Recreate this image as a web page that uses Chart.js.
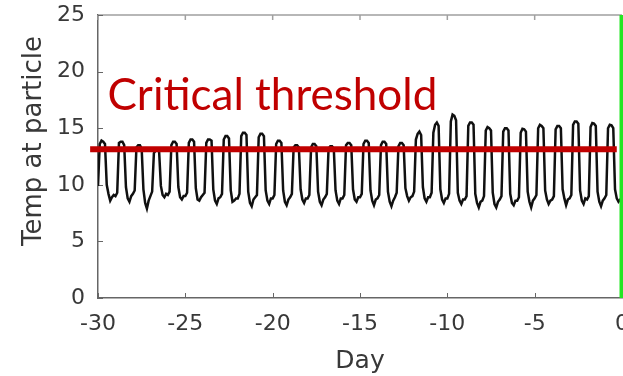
<!DOCTYPE html>
<html>
<head>
<meta charset="utf-8">
<script src="https://cdn.jsdelivr.net/npm/chart.js@4.4.1/dist/chart.umd.min.js"></script>
<style>
  html, body { margin: 0; padding: 0; background: #ffffff; overflow: hidden; }
  #wrap { width: 623px; height: 376px; position: relative; }
</style>
</head>
<body>
<div id="wrap"><canvas id="c"></canvas></div>
<script>
// ---- data ----
const startDay = -30;
const samplesPerDay = 10;            // one reading every 0.1 day
// temperature at particle, one row per day (10 readings each)
const tempByDay = [
  [9.9, 13.6, 13.9, 13.8, 13.6, 10.0, 9.2, 8.6, 8.9, 9.1],
  [9.0, 9.3, 13.7, 13.8, 13.8, 13.5, 9.8, 8.8, 8.5, 9.0],
  [9.2, 9.5, 13.3, 13.5, 13.5, 13.2, 9.6, 8.4, 7.9, 8.6],
  [9.0, 9.4, 12.8, 13.0, 13.1, 12.9, 9.9, 9.1, 8.9, 9.2],
  [9.1, 9.4, 13.5, 13.8, 13.8, 13.6, 9.8, 8.9, 8.7, 9.0],
  [9.0, 9.3, 13.7, 14.0, 14.0, 13.8, 9.7, 8.7, 8.6, 8.9],
  [9.1, 9.3, 13.7, 14.0, 14.0, 13.9, 9.6, 8.6, 8.3, 8.8],
  [8.9, 9.2, 14.0, 14.3, 14.3, 14.1, 9.5, 8.5, 8.6, 8.8],
  [8.8, 9.2, 14.3, 14.6, 14.6, 14.4, 9.4, 8.4, 8.1, 8.7],
  [8.9, 9.1, 14.2, 14.5, 14.5, 14.3, 9.5, 8.6, 8.3, 8.8],
  [8.8, 9.1, 13.6, 13.9, 13.9, 13.7, 9.5, 8.5, 8.2, 8.7],
  [8.9, 9.2, 13.3, 13.5, 13.5, 13.3, 9.6, 8.7, 8.4, 8.8],
  [8.8, 9.1, 13.3, 13.6, 13.6, 13.4, 9.4, 8.5, 8.2, 8.7],
  [8.9, 9.2, 13.2, 13.4, 13.4, 13.2, 9.5, 8.6, 8.3, 8.8],
  [8.8, 9.1, 13.5, 13.7, 13.7, 13.5, 9.6, 8.7, 8.5, 8.9],
  [8.9, 9.2, 13.6, 13.9, 13.9, 13.7, 9.5, 8.6, 8.2, 8.7],
  [8.8, 9.1, 13.5, 13.8, 13.8, 13.6, 9.4, 8.5, 8.1, 8.6],
  [8.9, 9.3, 13.4, 13.7, 13.7, 13.5, 9.7, 9.0, 8.6, 8.9],
  [9.0, 9.4, 14.0, 14.5, 14.7, 14.4, 9.8, 8.8, 8.5, 8.9],
  [8.9, 9.3, 14.6, 15.3, 15.5, 15.2, 9.6, 8.7, 8.4, 8.8],
  [8.8, 9.2, 15.6, 16.2, 16.1, 15.7, 9.3, 8.6, 8.3, 8.7],
  [8.7, 9.0, 15.2, 15.5, 15.5, 15.3, 9.2, 8.4, 8.0, 8.5],
  [8.6, 9.0, 14.8, 15.1, 15.0, 14.8, 9.3, 8.3, 8.0, 8.5],
  [8.7, 9.0, 14.7, 15.0, 15.0, 14.8, 9.2, 8.4, 8.2, 8.6],
  [8.6, 8.9, 14.6, 14.95, 14.9, 14.7, 9.4, 8.5, 8.0, 8.6],
  [8.8, 9.1, 15.0, 15.3, 15.2, 15.0, 9.5, 8.7, 8.3, 8.6],
  [8.7, 9.0, 14.9, 15.2, 15.2, 15.0, 9.6, 8.8, 8.2, 8.7],
  [8.8, 9.1, 15.3, 15.6, 15.6, 15.4, 9.5, 8.6, 8.3, 8.8],
  [8.7, 9.0, 15.1, 15.45, 15.4, 15.2, 9.4, 8.5, 8.1, 8.6],
  [8.8, 9.1, 15.0, 15.3, 15.25, 15.0, 9.6, 8.8, 8.5, 8.7]
];
const finalTemp = 8.5;               // reading at day 0

const thresholdValue = 13.15;
const thresholdDays = [-30.45, -0.3];
const thresholdLabel = 'Critical threshold';
const thresholdLabelAt = { day: -29.45, temp: 16.6 };

const markerDay = 0;                 // green vertical line
const markerRange = [0, 25];

const xTicks = [-30, -25, -20, -15, -10, -5, 0];
const yTicks = [0, 5, 10, 15, 20, 25];
const xTitle = 'Day';
const yTitle = 'Temp at particle';

// ---- build datasets ----
const tempPoints = [];
tempByDay.forEach((row, d) => {
  row.forEach((v, i) => tempPoints.push({ x: startDay + d + i / samplesPerDay, y: v }));
});
tempPoints.push({ x: startDay + tempByDay.length, y: finalTemp });

const thresholdPoints = thresholdDays.map(d => ({ x: d, y: thresholdValue }));
const markerPoints = markerRange.map(v => ({ x: markerDay, y: v }));

const AXIS = '#666666';
const TEXT = '#383838';
const TICK_IN = 5;

const framePlugin = {
  id: 'frame',
  beforeDatasetsDraw(chart) {
    const { ctx, chartArea: a, scales: { x, y } } = chart;
    ctx.save();
    ctx.strokeStyle = '#a0a0a0';
    ctx.lineWidth = 1.5;
    ctx.beginPath();
    ctx.moveTo(a.left, a.top);
    ctx.lineTo(a.right, a.top);
    x.ticks.forEach(t => {
      const px = x.getPixelForValue(t.value);
      ctx.moveTo(px, a.top);
      ctx.lineTo(px, a.top + TICK_IN);
    });
    ctx.stroke();
    ctx.strokeStyle = AXIS;
    ctx.lineWidth = 1;
    ctx.beginPath();
    x.ticks.forEach(t => {
      const px = Math.round(x.getPixelForValue(t.value)) + 0.5;
      ctx.moveTo(px, a.bottom);
      ctx.lineTo(px, a.bottom - TICK_IN);
    });
    y.ticks.forEach(t => {
      const py = Math.round(y.getPixelForValue(t.value)) + 0.5;
      ctx.moveTo(a.left, py);
      ctx.lineTo(a.left + TICK_IN, py);
    });
    ctx.stroke();
    ctx.restore();
  },
  afterDraw(chart) {
    const { ctx, scales: { x, y } } = chart;
    ctx.save();
    ctx.fillStyle = TEXT;
    ctx.font = '26px "DejaVu Sans"';
    ctx.textAlign = 'center';
    ctx.textBaseline = 'middle';
    ctx.translate(34, 141);
    ctx.rotate(-Math.PI / 2);
    ctx.fillText(yTitle, 0, 0);
    ctx.restore();
    ctx.save();
    ctx.fillStyle = '#c00000';
    ctx.font = '44px Lato';
    ctx.textAlign = 'left';
    ctx.textBaseline = 'alphabetic';
    ctx.fillText(thresholdLabel, x.getPixelForValue(thresholdLabelAt.day), y.getPixelForValue(thresholdLabelAt.temp));
    ctx.restore();
  }
};

new Chart(document.getElementById('c'), {
  type: 'line',
  data: {
    datasets: [
      { data: markerPoints, borderColor: '#22e622', borderWidth: 5, pointRadius: 0, clip: false },
      { data: thresholdPoints, borderColor: '#c00000', borderWidth: 6, pointRadius: 0, clip: false },
      { data: tempPoints, borderColor: '#101010', borderWidth: 2.5, pointRadius: 0, tension: 0 }
    ]
  },
  options: {
    responsive: true,
    maintainAspectRatio: false,
    animation: false,
    events: [],
    layout: { padding: { top: 15, right: 1, left: 0, bottom: 0 } },
    plugins: { legend: { display: false }, tooltip: { enabled: false } },
    scales: {
      x: {
        type: 'linear', min: -30, max: 0,
        afterBuildTicks: s => { s.ticks = xTicks.map(v => ({ value: v })); },
        afterFit: s => { s.height = 78; s.paddingRight = 0; s.paddingLeft = 0; },
        ticks: { color: TEXT, font: { family: 'DejaVu Sans', size: 22 }, padding: 13, maxRotation: 0, autoSkip: false },
        grid: { drawOnChartArea: false, drawTicks: false },
        border: { display: true, color: AXIS, width: 1.5 },
        title: { display: true, text: xTitle, color: TEXT, font: { family: 'DejaVu Sans', size: 25 }, padding: { top: 0, bottom: 0 } }
      },
      y: {
        type: 'linear', min: 0, max: 25,
        afterBuildTicks: s => { s.ticks = yTicks.map(v => ({ value: v })); },
        afterFit: s => { s.width = 98; s.paddingTop = 0; s.paddingBottom = 0; },
        ticks: { color: TEXT, font: { family: 'DejaVu Sans', size: 22 }, padding: 13, autoSkip: false },
        grid: { drawOnChartArea: false, drawTicks: false },
        border: { display: true, color: AXIS, width: 1.5 }
      }
    }
  },
  plugins: [framePlugin]
});
</script>
</body>
</html>
